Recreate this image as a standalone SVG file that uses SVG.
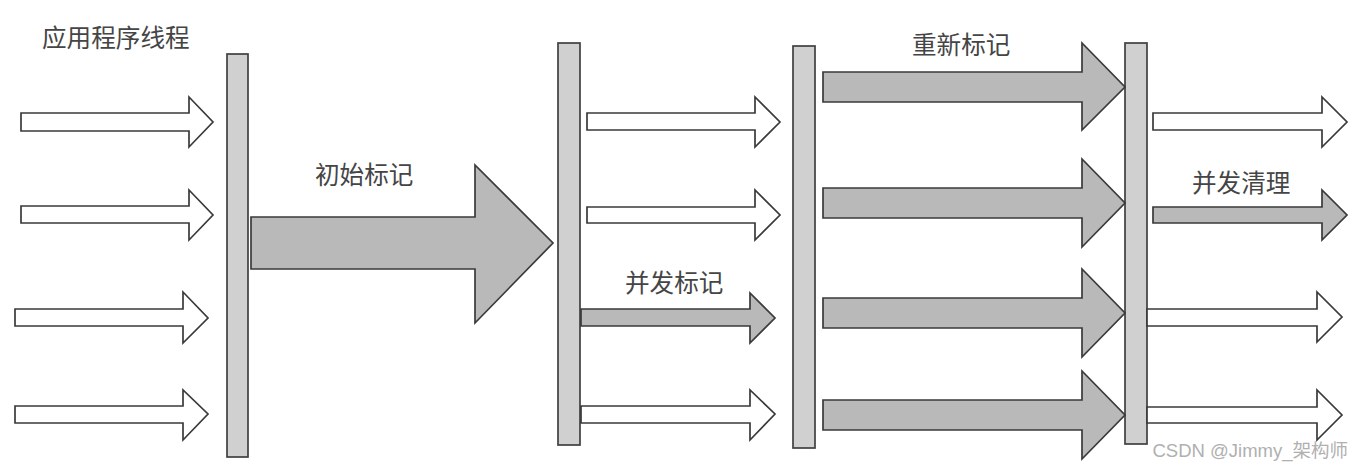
<svg xmlns="http://www.w3.org/2000/svg" width="1362" height="471" viewBox="0 0 1362 471">
<style>
.bar{fill:#d0d0d0;stroke:#404040;stroke-width:1.7}
.w{fill:#ffffff;stroke:#3a3a3a;stroke-width:1.7;stroke-linejoin:miter}
.g{fill:#b9b9b9;stroke:#3a3a3a;stroke-width:1.7;stroke-linejoin:miter}
.lbl{font-family:"Noto Sans CJK SC","Noto Sans",sans-serif;font-size:24.6px;fill:#454545}
.wm{font-family:"Liberation Sans","Noto Sans CJK SC",sans-serif;font-size:18.5px;fill:#b0b0b0}
</style>
<rect width="1362" height="471" fill="#ffffff"/>
<g id="labels">
<text class="lbl" x="42" y="47">应用程序线程</text>
<text class="lbl" x="315" y="184">初始标记</text>
<text class="lbl" x="625" y="292">并发标记</text>
<text class="lbl" x="912" y="54">重新标记</text>
<text class="lbl" x="1192" y="192">并发清理</text>
</g>
<g id="bars">
<rect id="bar1" class="bar" x="227" y="54" width="21" height="403"/>
<rect id="bar2" class="bar" x="558" y="43" width="22" height="402"/>
<rect id="bar3" class="bar" x="793" y="46" width="22" height="402"/>
<rect id="bar4" class="bar" x="1125" y="43" width="22" height="401"/>
</g>
<g id="connectors">
<path class="w" d="M21 113H189V97L213 122L189 147V131H21Z"/>
<path class="w" d="M21 206H189V190L213 215L189 240V223H21Z"/>
<path class="w" d="M15 309H183V292L208 318L183 343V326H15Z"/>
<path class="w" d="M15 406H183V390L208 414L183 440V423H15Z"/>
<path class="g" d="M251 217H475V165L553 243L475 323V269H251Z"/>
<path class="w" d="M587 113H755V97L780 122L755 147V130H587Z"/>
<path class="w" d="M587 207H755V190L780 215L755 240V223H587Z"/>
<path class="g" d="M581 309H750V293L775 318L750 343V326H581Z"/>
<path class="w" d="M581 406H750V390L775 414L750 440V423H581Z"/>
<path class="g" d="M823 72H1082V43L1125 87L1082 130V102H823Z"/>
<path class="g" d="M823 188H1082V159L1125 203L1082 247V218H823Z"/>
<path class="g" d="M823 298H1082V269L1125 313L1082 357V328H823Z"/>
<path class="g" d="M823 400H1082V371L1125 415L1082 459V430H823Z"/>
<path class="w" d="M1153 113H1322V97L1347 122L1322 147V130H1153Z"/>
<path class="g" d="M1153 207H1322V190L1347 215L1322 240V223H1153Z"/>
<path class="w" d="M1147 309H1317V292L1342 317L1317 342V326H1147Z"/>
<path class="w" d="M1147 407H1317V390L1342 415L1317 440V423H1147Z"/>
</g>
<text class="wm" x="1348" y="457" text-anchor="end">CSDN @Jimmy_架构师</text>
</svg>
